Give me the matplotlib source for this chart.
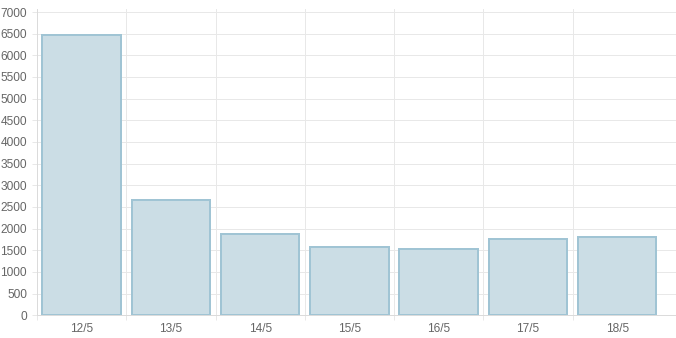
import matplotlib
matplotlib.use("Agg")
import matplotlib.pyplot as plt
import numpy as np

categories = ["12/5", "13/5", "14/5", "15/5", "16/5", "17/5", "18/5"]
values = [6480, 2650, 1880, 1580, 1530, 1768, 1814]
y_ticks = list(range(0, 7001, 500))

W, H = 676, 338
PX = 0.72  # points per pixel at dpi 100
fig = plt.figure(figsize=(W / 100, H / 100), dpi=100)
plt.rcParams['font.family'] = ['Liberation Sans', 'DejaVu Sans']

left, right = 37 / W, 1.0
bottom = (H - 315.3) / H
top = (H - 9) / H
ax = fig.add_axes([left, bottom, right - left, top - bottom])

x = np.arange(len(categories))
ax.bar(x, values, width=0.88, color=(203/255, 221/255, 229/255),
       edgecolor=(160/255, 196/255, 212/255), linewidth=2 * PX, zorder=3)

ymax = 7000 * (315.3 - 9) / (315.3 - 12)
ax.set_ylim(0, ymax)
cat_w = 624.8 / 7
ax.set_xlim(-0.5, -0.5 + (W - 37) / cat_w)

ax.set_yticks(y_ticks)
ax.set_yticklabels([str(v) for v in y_ticks])
ax.set_xticks(x)
ax.set_xticklabels(categories)
ax.set_xticks(np.arange(len(categories)) - 0.5, minor=True)

grid_c = (0.91, 0.91, 0.91)
ax.grid(True, axis='y', which='major', color=grid_c, linewidth=1 * PX, zorder=0)
ax.grid(True, axis='x', which='minor', color=grid_c, linewidth=1 * PX, zorder=0)
ax.set_axisbelow(True)

ax.tick_params(axis='x', which='major', length=0, pad=8 * PX, labelsize=8.6, labelcolor='#666666')
ax.tick_params(axis='x', which='minor', length=5 * PX, width=1 * PX, color=grid_c)
ax.tick_params(axis='y', which='major', length=5 * PX, width=1 * PX, color=grid_c, pad=5 * PX,
               labelsize=8.6, labelcolor='#666666')

for s in ['top', 'right']:
    ax.spines[s].set_visible(False)
for s in ['left', 'bottom']:
    ax.spines[s].set_color((0.86, 0.86, 0.86))
    ax.spines[s].set_linewidth(1 * PX)

fig.savefig("out.png", dpi=100)
